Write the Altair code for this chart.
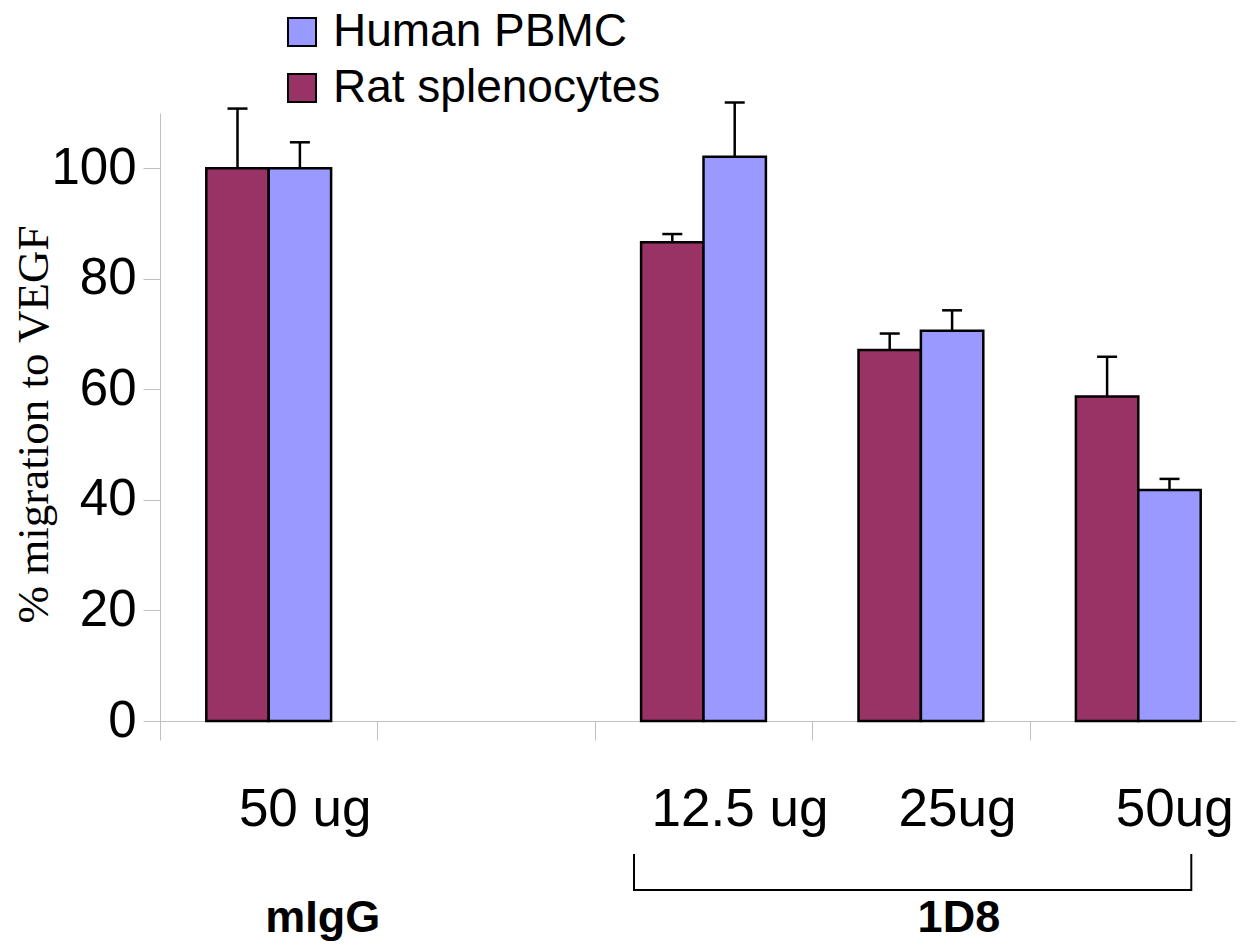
import altair as alt
import pandas as pd

# ---- data ----
categories = ["50 ug", " ", "12.5 ug", "25ug", "50ug"]
bar_categories = ["50 ug", "12.5 ug", "25ug", "50ug"]
series_order = ["Rat splenocytes", "Human PBMC"]
legend_order = ["Human PBMC", "Rat splenocytes"]
legend_colors = ["#9999FF", "#993366"]

rat_values = [100, 86.6, 67.1, 58.7]
rat_upper = [110.8, 88.1, 70.1, 65.9]
human_values = [100, 102.1, 70.6, 41.8]
human_upper = [104.7, 111.9, 74.3, 43.8]

y_ticks = [0, 20, 40, 60, 80, 100]
y_domain = [0, 110]

group_labels = ["mIgG", "1D8"]
group_anchor = ["50 ug", "25ug"]
bracket_start = "12.5 ug"
bracket_end = "50ug"

rows = []
for c, v, u in zip(bar_categories, rat_values, rat_upper):
    rows.append({"cat": c, "series": "Rat splenocytes", "value": v, "upper": u})
for c, v, u in zip(bar_categories, human_values, human_upper):
    rows.append({"cat": c, "series": "Human PBMC", "value": v, "upper": u})
df = pd.DataFrame(rows)

GRAY = "#c0c0c0"

x_enc = alt.X(
    "cat:N",
    sort=categories,
    scale=alt.Scale(domain=categories, range=[0, 1087], paddingInner=0, paddingOuter=0),
    axis=alt.Axis(
        title=None,
        labelAngle=0,
        labelFont="Liberation Sans",
        labelFontSize=53,
        labelColor="black",
        labelBaseline="alphabetic",
        labelPadding=85,
        labelOffset=36,
        labelLimit=500,
        labelOverlap=False,
        tickBand="extent",
        tickSize=19,
        tickColor=GRAY,
        domainColor=GRAY,
        grid=False,
    ),
)
xoff_enc = alt.XOffset(
    "series:N",
    scale=alt.Scale(domain=series_order, paddingInner=0, paddingOuter=0.742),
)
y_enc = alt.Y(
    "value:Q",
    scale=alt.Scale(domain=y_domain, nice=False),
    axis=alt.Axis(
        values=y_ticks,
        title="% migration to VEGF",
        titleFont="Liberation Serif",
        titleFontSize=45,
        titleFontWeight="normal",
        titleColor="black",
        titleAngle=270,
        titleX=-113,
        titleY=311,
        titleBaseline="alphabetic",
        titleAlign="center",
        labelFont="Liberation Sans",
        labelFontSize=51,
        labelColor="black",
        labelPadding=7,
        tickSize=17,
        tickColor=GRAY,
        domainColor=GRAY,
        grid=False,
    ),
)
color_enc = alt.Color(
    "series:N",
    scale=alt.Scale(domain=legend_order, range=legend_colors),
    legend=alt.Legend(
        title=None,
        orient="none",
        legendX=119,
        legendY=-104,
        symbolType="square",
        symbolSize=784,
        symbolStrokeColor="black",
        symbolStrokeWidth=2,
        symbolOpacity=1,
        labelFont="Liberation Sans",
        labelFontSize=46,
        labelColor="black",
        labelOffset=8,
        rowPadding=10,
        padding=0,
        labelLimit=600,
    ),
)

base = alt.Chart(df)

bars = base.mark_bar(stroke="black", strokeWidth=2.5, opacity=1).encode(
    x=x_enc, xOffset=xoff_enc, y=y_enc, color=color_enc
)
err = base.mark_rule(color="black", strokeWidth=2.5).encode(
    x=alt.X("cat:N", sort=categories), xOffset=alt.XOffset("series:N"),
    y="value:Q", y2="upper:Q"
)
caps = base.mark_tick(color="black", thickness=2.5, size=20, opacity=1).encode(
    x=alt.X("cat:N", sort=categories), xOffset=alt.XOffset("series:N"),
    y="upper:Q"
)

gdf = pd.DataFrame({"label": group_labels, "cat": group_anchor})
txt_font = dict(font="Liberation Sans", fontSize=45, fontWeight="bold",
                color="black", baseline="alphabetic", align="center")
mIgG = alt.Chart(gdf.iloc[[0]]).mark_text(dx=54, **txt_font).encode(
    x=alt.X("cat:N", sort=categories), y=alt.value(819), text="label:N"
)
d18 = alt.Chart(gdf.iloc[[1]]).mark_text(dx=38, **txt_font).encode(
    x=alt.X("cat:N", sort=categories), y=alt.value(819), text="label:N"
)

bdf = pd.DataFrame({"start": [bracket_start], "end": [bracket_end]})
br_h = alt.Chart(bdf).mark_rule(color="black", strokeWidth=2, xOffset=-69.5, x2Offset=53).encode(
    x=alt.X("start:N", sort=categories), x2="end:N", y=alt.value(777)
)
br_l = alt.Chart(bdf).mark_rule(color="black", strokeWidth=2, xOffset=-69.5).encode(
    x=alt.X("start:N", sort=categories), y=alt.value(741), y2=alt.value(778)
)
br_r = alt.Chart(bdf).mark_rule(color="black", strokeWidth=2, xOffset=53).encode(
    x=alt.X("end:N", sort=categories), y=alt.value(741), y2=alt.value(778)
)

chart = (
    alt.layer(bars, err, caps, mIgG, d18, br_h, br_l, br_r)
    .properties(
        width=1076,
        height=608,
        padding={"left": 152, "top": 105, "right": 0, "bottom": 224},
        autosize=alt.AutoSizeParams(type="none"),
        background="white",
    )
    .configure_view(stroke=None)
)

chart.save("out.html", embed_options={"renderer": "svg", "actions": False})
